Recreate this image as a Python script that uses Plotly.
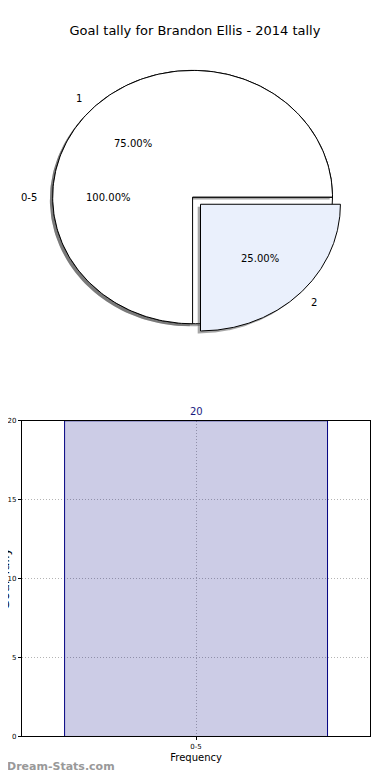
import numpy as np
import plotly.graph_objects as go

# ---- data ----
title_text = "Goal tally for Brandon Ellis - 2014 tally"
range_labels = ["0-5"]          # outer pie / bar categories
range_counts = [20]
goal_labels = ["1", "2"]        # inner pie categories
goal_counts = [15, 5]
goal_colors = ["#ffffff", "#eaf0fc"]
goal_explode = [0.0, 0.08]

W, H = 390, 780
OFF = 8  # page body margin compensation
# pie geometry (figure pixels)
PCX, PCY, RX, RY = 191 - OFF, 195 - OFF, 141, 128

fig = go.Figure()
FONT = "DejaVu Sans"


def wedge_xy(t0, t1, dx=0.0, dy=0.0, n=240):
    th = np.linspace(np.radians(t0), np.radians(t1), n)
    xs = np.concatenate([[0], np.cos(th), [0]]) + dx
    ys = np.concatenate([[0], np.sin(th), [0]]) + dy
    return xs, ys


def add_pie(labels, values, colors, explode):
    total = float(sum(values))
    start = 0.0
    for lab, v, c, ex in zip(labels, values, colors, explode):
        span = 360.0 * v / total
        mid = np.radians(start + span / 2)
        dx, dy = ex * np.cos(mid), ex * np.sin(mid)
        # shadow
        sx, sy = wedge_xy(start, start + span, dx - 0.02, dy - 0.02)
        fig.add_trace(go.Scatter(x=sx, y=sy, mode="lines", fill="toself",
                                 fillcolor="rgba(77,77,77,0.5)", line=dict(width=0),
                                 xaxis="x", yaxis="y", hoverinfo="skip", showlegend=False))
        wx, wy = wedge_xy(start, start + span, dx, dy)
        fig.add_trace(go.Scatter(x=wx, y=wy, mode="lines", fill="toself",
                                 fillcolor=c, line=dict(color="black", width=1),
                                 xaxis="x", yaxis="y", hoverinfo="skip", showlegend=False))
        # labels
        lx, ly = dx + 1.1 * np.cos(mid), dy + 1.1 * np.sin(mid)
        fig.add_annotation(x=lx, y=ly, xref="x", yref="y", text=lab, showarrow=False,
                           xanchor="left" if lx > 0 else "right", yanchor="middle",
                           font=dict(family=FONT, size=10, color="black"))
        px_, py_ = dx + 0.6 * np.cos(mid), dy + 0.6 * np.sin(mid)
        fig.add_annotation(x=px_, y=py_, xref="x", yref="y",
                           text=f"{100.0 * v / total:.2f}%", showarrow=False,
                           xanchor="center", yanchor="middle",
                           font=dict(family=FONT, size=10, color="black"))
        start += span


add_pie(range_labels, range_counts, ["#ffffff"], [0.0])
add_pie(goal_labels, goal_counts, goal_colors, goal_explode)

# ---- bar chart ----
fig.add_trace(go.Bar(x=range_labels, y=range_counts, width=0.755,
                     marker=dict(color="rgba(0,0,128,0.2)", line=dict(color="navy", width=1)),
                     xaxis="x2", yaxis="y2", hoverinfo="skip", showlegend=False))
for lab, v in zip(range_labels, range_counts):
    fig.add_annotation(x=lab, y=v, xref="x2", yref="y2", text=str(v), showarrow=False,
                       yanchor="bottom", yshift=2,
                       font=dict(family=FONT, size=10, color="#1a1a80"))

bx0, bx1, by_top, by_bot = 19 - OFF, 370 - OFF, 421 - OFF, 740 - OFF

grid = dict(showgrid=True, gridcolor="#b4b4b4", griddash="1px,2px", gridwidth=1)

fig.update_layout(
    width=W, height=H, margin=dict(l=0, r=0, t=0, b=0),
    paper_bgcolor="white", plot_bgcolor="rgba(0,0,0,0)",
    title=dict(text=title_text, x=(195 - OFF) / W, xanchor="center",
               y=1 - (30 - OFF) / H, yanchor="middle",
               font=dict(family=FONT, size=13, color="black")),
    xaxis=dict(domain=[0, 1], range=[-PCX / RX, (W - PCX) / RX], visible=False, fixedrange=True),
    yaxis=dict(domain=[0.5, 1], range=[(PCY - 390) / RY, PCY / RY], visible=False, fixedrange=True),
    xaxis2=dict(domain=[bx0 / W, bx1 / W], anchor="y2", type="category", range=[-0.5, 0.5],
                showline=True, linecolor="black", linewidth=1, mirror=True,
                ticks="outside", ticklen=3, tickcolor="black",
                tickfont=dict(family=FONT, size=7, color="black"),
                title=dict(text="Frequency", standoff=4,
                           font=dict(family=FONT, size=10, color="black")),
                **grid),
    yaxis2=dict(domain=[(H - by_bot) / H, (H - by_top) / H], anchor="x2", range=[0, 20],
                tickvals=[0, 5, 10, 15, 20],
                showline=True, linecolor="black", linewidth=1, mirror=True,
                ticks="outside", ticklen=3, tickcolor="black",
                tickfont=dict(family=FONT, size=7, color="black"),
                zeroline=False, **grid),
)

# y-axis title (mostly clipped at the left edge in the reference)
fig.add_annotation(x=0, y=(H - (581 - OFF)) / H, xref="paper", yref="paper", text="Goal Tally",
                   textangle=-90, showarrow=False, xanchor="center", yanchor="middle", xshift=-7,
                   font=dict(family=FONT, size=13, color="black"))

# watermark
fig.add_annotation(x=0, y=(H - (770 - OFF)) / H, xref="paper", yref="paper",
                   text="<b>Dream-Stats.com</b>",
                   showarrow=False, xanchor="left", yanchor="middle", xshift=-6,
                   font=dict(family=FONT, size=11, color="#999999"))

fig.write_html("out.html")
